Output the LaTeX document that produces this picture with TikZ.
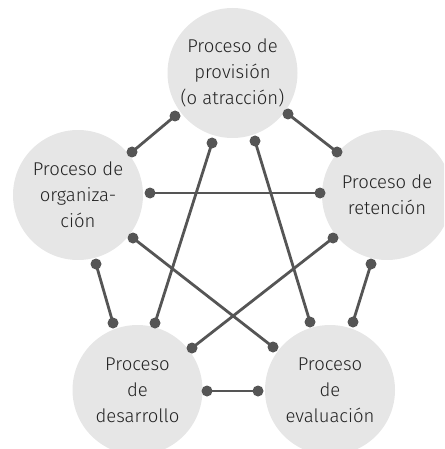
\documentclass[tikz,border=0pt]{standalone}
\usepackage{fontspec}
\setmainfont{Fira Sans}[UprightFont=* Light]
\definecolor{circfill}{HTML}{E6E6E6}
\definecolor{linkcol}{HTML}{555555}
\definecolor{txtcol}{HTML}{222222}
\begin{document}
\begin{tikzpicture}[x=1pt,y=-1pt,
  proc/.style={circle,fill=circfill,minimum size=130pt,inner sep=0pt,align=center,
     text=txtcol,font=\fontsize{18.5}{26}\selectfont},
  dot/.style={circle,fill=linkcol,minimum size=11pt,inner sep=0pt},
  link/.style={draw=linkcol,line width=2.8pt}]
\useasboundingbox (0,0) rectangle (444,449);
\clip (0,0) rectangle (444,449);
\node[proc] (top) at (232.5,73) {Proceso de\\provisión\\(o atracción)};
\node[proc] (left) at (78,195) {Proceso de\\organiza-\\ción};
\node[proc] (right) at (387,195) {Proceso de\\retención};
\node[proc] (bl) at (137.5,390) {Proceso\\de\\desarrollo};
\node[proc] (br) at (330,390) {Proceso\\de\\evaluación};
% dots
\node[dot] (t1) at (175,116) {};
\node[dot] (t2) at (212,143) {};
\node[dot] (t3) at (255,141) {};
\node[dot] (t4) at (288,114) {};
\node[dot] (l1) at (132,152) {};
\node[dot] (l2) at (150,193) {};
\node[dot] (l3) at (133,238) {};
\node[dot] (l4) at (96,264) {};
\node[dot] (r1) at (337,152) {};
\node[dot] (r2) at (320,193) {};
\node[dot] (r3) at (333,238) {};
\node[dot] (r4) at (371,264) {};
\node[dot] (b1) at (155,323) {};
\node[dot] (b2) at (192,348) {};
\node[dot] (b3) at (113,323) {};
\node[dot] (b4) at (207,391) {};
\node[dot] (c1) at (310,322) {};
\node[dot] (c2) at (273,347) {};
\node[dot] (c3) at (353,322) {};
\node[dot] (c4) at (258,391) {};
% links
\draw[link] (t1.center) -- (l1.center);
\draw[link] (t4.center) -- (r1.center);
\draw[link] (l2.center) -- (r2.center);
\draw[link] (t2.center) -- (b1.center);
\draw[link] (t3.center) -- (c1.center);
\draw[link] (l3.center) -- (c2.center);
\draw[link] (r3.center) -- (b2.center);
\draw[link] (l4.center) -- (b3.center);
\draw[link] (r4.center) -- (c3.center);
\draw[link] (b4.center) -- (c4.center);
\end{tikzpicture}
\end{document}
